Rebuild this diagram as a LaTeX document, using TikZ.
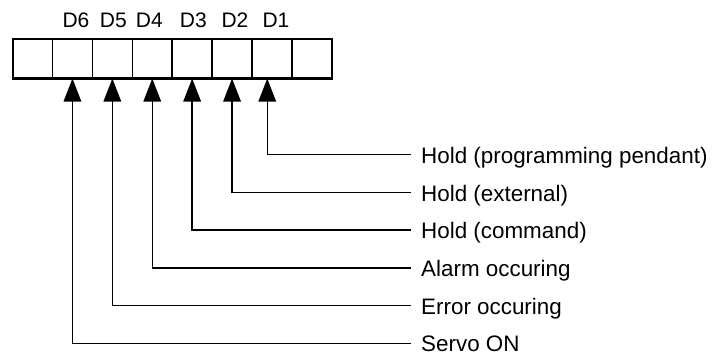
\documentclass[tikz,border=0pt]{standalone}
\usepackage{fontspec}
\setmainfont{Liberation Sans}
\usetikzlibrary{arrows.meta}
\begin{document}
\begin{tikzpicture}[x=1pt,y=-1pt,
  cell/.style={draw,line width=1.5pt,minimum width=39.9pt,minimum height=39pt,inner sep=0pt,outer sep=0pt},
  bitlab/.style={anchor=base,inner sep=0pt,font=\fontsize{21}{24}\selectfont},
  desc/.style={anchor=base west,inner sep=0pt,font=\fontsize{22.4}{26}\selectfont},
  conn/.style={line width=1.4pt,-{Triangle[width=17.5pt,length=23pt]}}]
\useasboundingbox (0,0) rectangle (712,353);
% register cells
\foreach \i in {1,...,8}{
  \node[cell] (c\i) at ({12.6+39.9*(\i-0.5)},59) {};
}
\draw[line width=2pt] (c1.north west) rectangle (c8.south east);
% bit labels
\node[bitlab] (d6) at (76,27.7) {D6};
\node[bitlab] (d5) at (113.3,27.7) {D5};
\node[bitlab] (d4) at (149.3,27.7) {D4};
\node[bitlab] (d3) at (193.3,27.7) {D3};
\node[bitlab] (d2) at (235,27.7) {D2};
\node[bitlab] (d1) at (276,27.7) {D1};
% line ends
\coordinate (e1) at (411,154.7);
\coordinate (e2) at (411,192.3);
\coordinate (e3) at (411,230);
\coordinate (e4) at (411,268);
\coordinate (e5) at (411,305.7);
\coordinate (e6) at (411,343.3);
% descriptions
\node[desc] (t1) at (421,163.4) {Hold (programming pendant)};
\node[desc] (t2) at (421,201.0) {Hold (external)};
\node[desc] (t3) at (421,238.7) {Hold (command)};
\node[desc] (t4) at (421,276.7) {Alarm occuring};
\node[desc] (t5) at (421,314.4) {Error occuring};
\node[desc] (t6) at (421,351.2) {Servo ON};
% connectors
\draw[conn] (e1) -| ([xshift=-4.7pt]c7.south);
\draw[conn] (e2) -| (c6.south);
\draw[conn] (e3) -| (c5.south);
\draw[conn] (e4) -| (c4.south);
\draw[conn] (e5) -| (c3.south);
\draw[conn] (e6) -| (c2.south);
\end{tikzpicture}
\end{document}
